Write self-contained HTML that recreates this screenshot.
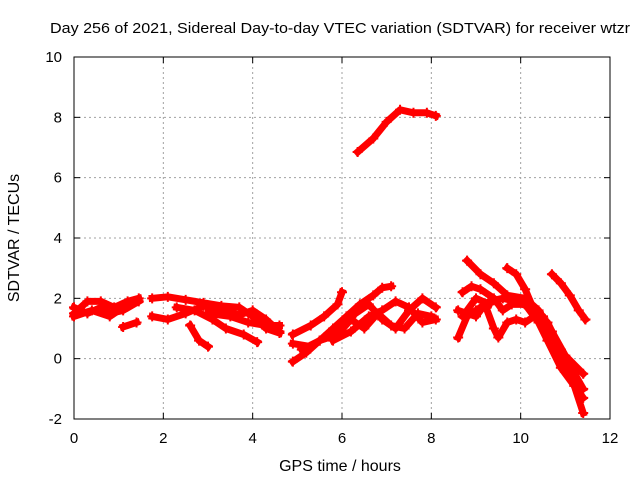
<!DOCTYPE html>
<html><head><meta charset="utf-8"><style>
body{margin:0;background:#fff}
svg{display:block;font-family:"Liberation Sans",sans-serif}
</style></head><body>
<svg id="chart" width="640" height="480">
<text x="340" y="33" font-size="15" text-anchor="middle" textLength="580" lengthAdjust="spacingAndGlyphs">Day 256 of 2021, Sidereal Day-to-day VTEC variation (SDTVAR) for receiver wtzr</text>
<g id="grid"></g>
<g id="axes"></g>
<g id="series"></g>
<text x="340" y="471" font-size="16" text-anchor="middle">GPS time / hours</text>
<text transform="translate(19,238) rotate(-90)" font-size="16" text-anchor="middle">SDTVAR / TECUs</text>
</svg>
<script>
const xTicks=[0,2,4,6,8,10,12];
const yTicks=[-2,0,2,4,6,8,10];
const sA=[[6.35,6.85],[6.7,7.3],[7.0,7.85],[7.3,8.25],[7.6,8.15],[7.9,8.15],[8.1,8.05]];
const s1=[[0,1.5],[0.3,1.9],[0.6,1.9],[0.9,1.7],[1.2,1.9],[1.45,2.0]];
const s2=[[0,1.7],[0.3,1.5],[0.6,1.7],[0.8,1.5],[1.1,1.6],[1.45,1.9]];
const s3=[[1.1,1.05],[1.4,1.2]];
const s4=[[0,1.4],[0.4,1.6],[0.8,1.4],[1.2,1.8]];
const s5=[[1.75,2.0],[2.1,2.05],[2.5,1.95],[2.9,1.85],[3.3,1.75],[3.7,1.7],[4.0,1.4],[4.3,1.0],[4.6,0.85]];
const s6=[[1.75,1.4],[2.1,1.3],[2.5,1.5],[2.9,1.75],[3.3,1.6],[3.7,1.45],[4.0,1.6],[4.3,1.3],[4.6,0.9]];
const s7=[[2.6,1.1],[2.8,0.6],[3.0,0.4]];
const s8=[[2.3,1.7],[2.7,1.6],[3.1,1.3],[3.4,1.0],[3.8,0.8],[4.1,0.55]];
const s9=[[3.0,1.5],[3.5,1.4],[3.9,1.2],[4.3,1.1],[4.6,1.1]];
const s10=[[4.9,-0.1],[5.2,0.2],[5.5,0.6],[5.8,1.0],[6.1,1.4],[6.4,1.8],[6.7,2.1],[6.9,2.35],[7.1,2.4]];
const s11=[[4.9,0.8],[5.3,1.1],[5.6,1.4],[5.9,1.8],[6.0,2.2]];
const s12=[[4.9,0.5],[5.3,0.4],[5.6,0.7],[6.0,1.1],[6.3,1.5],[6.6,1.8],[6.9,1.3],[7.2,1.0],[7.5,1.6],[7.8,2.0],[8.1,1.7]];
const s13=[[5.1,0.3],[5.5,0.6],[5.9,0.8],[6.2,1.3],[6.5,1.0],[6.8,1.5],[7.1,1.1],[7.4,1.0],[7.7,1.5],[8.0,1.4]];
const s14=[[5.8,0.6],[6.2,0.9],[6.6,1.4],[6.9,1.6],[7.2,1.9],[7.5,1.7],[7.8,1.2],[8.1,1.3]];
const s15=[[8.6,0.7],[8.8,1.4],[9.0,1.6],[9.3,1.9],[9.6,2.0],[9.9,1.9],[10.2,1.7],[10.5,1.4],[10.8,0.5],[11.0,-0.3],[11.2,-0.9],[11.4,-1.8]];
const s16=[[8.8,3.25],[9.1,2.8],[9.4,2.5],[9.7,2.1],[10.1,2.0],[10.4,1.6],[10.7,0.9],[11.0,0.1],[11.4,-0.5]];
const s17=[[9.7,3.0],[9.9,2.8],[10.1,2.3],[10.3,1.6],[10.6,1.2],[10.9,0.3],[11.4,-1.0]];
const s18=[[10.7,2.8],[10.9,2.5],[11.1,2.1],[11.3,1.6],[11.45,1.3]];
const s19=[[8.7,2.2],[8.9,2.4],[9.1,2.3],[9.4,2.0],[9.6,1.6],[9.8,1.8],[10.1,1.8],[10.4,1.2],[10.6,0.6],[10.9,-0.3],[11.4,-1.3]];
const s20=[[8.6,1.6],[9.0,1.4],[9.2,1.8],[9.4,1.0],[9.5,0.7],[9.7,1.2],[9.9,1.3],[10.1,1.2],[10.3,1.4]];
const s21=[[8.7,1.4],[9.0,2.0],[9.3,1.8]];
const allSeries=[sA,s1,s2,s3,s4,s5,s6,s7,s8,s9,s10,s11,s12,s13,s14,s15,s16,s17,s18,s19,s20,s21];

const X0=74,X1=610,Y0=419,Y1=57;
const xs=t=>X0+(t-0)/(12-0)*(X1-X0);
const ys=v=>Y0-(v+2)/(12)*(Y0-Y1);
const NS="http://www.w3.org/2000/svg";
function mk(tag,attrs,parent){const e=document.createElementNS(NS,tag);for(const k in attrs)e.setAttribute(k,attrs[k]);parent.appendChild(e);return e;}
const grid=document.getElementById('grid'),axes=document.getElementById('axes'),ser=document.getElementById('series');
xTicks.forEach(t=>{
  const x=xs(t);
  if(t>0&&t<12){const g=mk('line',{x1:x,y1:Y1,x2:x,y2:Y0,stroke:'#a0a0a0','stroke-dasharray':'2,3'},grid);
  
  }
  mk('line',{x1:x,y1:Y0,x2:x,y2:Y0-6,stroke:'#000'},axes);
  mk('line',{x1:x,y1:Y1,x2:x,y2:Y1+6,stroke:'#000'},axes);
  const l=mk('text',{x:x,y:443,'font-size':15,'text-anchor':'middle'},axes);
  l.textContent=t;
  
  
});
yTicks.forEach(v=>{
  const y=ys(v);
  if(v>-2&&v<10){const g=mk('line',{x1:X0,y1:y,x2:X1,y2:y,stroke:'#a0a0a0','stroke-dasharray':'2,3'},grid);
  
  }
  mk('line',{x1:X0,y1:y,x2:X0+6,y2:y,stroke:'#000'},axes);
  mk('line',{x1:X1,y1:y,x2:X1-6,y2:y,stroke:'#000'},axes);
  const l=mk('text',{x:62,y:y+5,'font-size':15,'text-anchor':'end'},axes);
  l.textContent=v;
  
  
});
const frame=mk('rect',{x:X0,y:Y1,width:X1-X0,height:Y0-Y1,fill:'none',stroke:'#000'},axes);


allSeries.forEach((s,i)=>{
  const p=mk('polyline',{points:s.map(d=>xs(d[0])+','+ys(d[1])).join(' '),fill:'none',stroke:'#ff0000','stroke-width':7,'stroke-linejoin':'round','stroke-linecap':'square'},ser);
  
  
  s.forEach(d=>{
    const x=xs(d[0]),y=ys(d[1]);
    const m=mk('path',{d:`M${x-5},${y}H${x+5}M${x},${y-5}V${y+5}`,stroke:'#ff0000','stroke-width':2},ser);
    
    
  });
});
</script>
</body></html>
